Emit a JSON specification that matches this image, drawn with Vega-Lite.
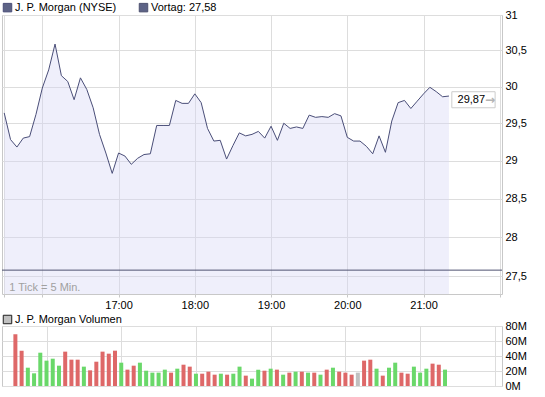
{
  "$schema": "https://vega.github.io/schema/vega-lite/v6.json",
  "padding": {"left": 1, "top": 1, "right": 0, "bottom": 0},
  "background": "white",
  "spacing": 2,
  "resolve": {"scale": {"color": "independent", "stroke": "independent", "fill": "independent"}, "legend": {"color": "independent", "stroke": "independent", "fill": "independent"}},
  "config": {
    "font": "Liberation Sans",
    "view": {"stroke": "#c8c8c8", "strokeWidth": 1},
    "axis": {"labelFont": "Liberation Sans", "labelFontSize": 11, "labelColor": "#000000", "gridColor": "#dddddd", "gridWidth": 1, "domain": false, "title": null, "tickColor": "#c8c8c8"},
    "legend": {"labelFont": "Liberation Sans", "labelFontSize": 11, "labelColor": "#000000", "padding": 0, "offset": 1, "symbolSize": 72, "labelOffset": 2, "columnPadding": 20, "title": null, "orient": "top", "direction": "horizontal"}
  },
  "vconcat": [
    {
      "width": 500,
      "height": 279,
      "data": {
        "values": [
          {"t": "15:30", "p": 29.64}, {"t": "15:35", "p": 29.28}, {"t": "15:40", "p": 29.18}, {"t": "15:45", "p": 29.30}, {"t": "15:50", "p": 29.32},
          {"t": "15:55", "p": 29.62}, {"t": "16:00", "p": 29.98}, {"t": "16:05", "p": 30.23}, {"t": "16:10", "p": 30.59}, {"t": "16:15", "p": 30.15},
          {"t": "16:20", "p": 30.07}, {"t": "16:25", "p": 29.82}, {"t": "16:30", "p": 30.12}, {"t": "16:35", "p": 29.96}, {"t": "16:40", "p": 29.71},
          {"t": "16:45", "p": 29.35}, {"t": "16:50", "p": 29.10}, {"t": "16:55", "p": 28.83}, {"t": "17:00", "p": 29.10}, {"t": "17:05", "p": 29.06},
          {"t": "17:10", "p": 28.95}, {"t": "17:15", "p": 29.03}, {"t": "17:20", "p": 29.08}, {"t": "17:25", "p": 29.09}, {"t": "17:30", "p": 29.47},
          {"t": "17:35", "p": 29.47}, {"t": "17:40", "p": 29.47}, {"t": "17:45", "p": 29.81}, {"t": "17:50", "p": 29.77}, {"t": "17:55", "p": 29.77},
          {"t": "18:00", "p": 29.90}, {"t": "18:05", "p": 29.78}, {"t": "18:10", "p": 29.43}, {"t": "18:15", "p": 29.26}, {"t": "18:20", "p": 29.27},
          {"t": "18:25", "p": 29.02}, {"t": "18:30", "p": 29.20}, {"t": "18:35", "p": 29.37}, {"t": "18:40", "p": 29.33}, {"t": "18:45", "p": 29.35},
          {"t": "18:50", "p": 29.39}, {"t": "18:55", "p": 29.30}, {"t": "19:00", "p": 29.46}, {"t": "19:05", "p": 29.27}, {"t": "19:10", "p": 29.50},
          {"t": "19:15", "p": 29.43}, {"t": "19:20", "p": 29.45}, {"t": "19:25", "p": 29.43}, {"t": "19:30", "p": 29.61}, {"t": "19:35", "p": 29.58},
          {"t": "19:40", "p": 29.59}, {"t": "19:45", "p": 29.58}, {"t": "19:50", "p": 29.63}, {"t": "19:55", "p": 29.60}, {"t": "20:00", "p": 29.31},
          {"t": "20:05", "p": 29.26}, {"t": "20:10", "p": 29.26}, {"t": "20:15", "p": 29.19}, {"t": "20:20", "p": 29.09}, {"t": "20:25", "p": 29.33},
          {"t": "20:30", "p": 29.11}, {"t": "20:35", "p": 29.53}, {"t": "20:40", "p": 29.78}, {"t": "20:45", "p": 29.81}, {"t": "20:50", "p": 29.70},
          {"t": "20:55", "p": 29.80}, {"t": "21:00", "p": 29.90}, {"t": "21:05", "p": 29.99}, {"t": "21:10", "p": 29.93}, {"t": "21:15", "p": 29.86},
          {"t": "21:20", "p": 29.87}
        ],
        "format": {"parse": {"t": "date:'%H:%M'"}}
      },
      "layer": [
        {
          "mark": {"type": "area", "fill": "#d8d8f5", "fillOpacity": 0.4},
          "encoding": {
            "x": {"field": "t", "type": "temporal",
              "scale": {"nice": false, "domain": [{"year": 1900, "month": 1, "date": 1, "hours": 15, "minutes": 28, "seconds": 16}, {"year": 1900, "month": 1, "date": 1, "hours": 22, "minutes": 1, "seconds": 44}]},
              "axis": {"grid": true, "ticks": true, "tickSize": 3, "labelPadding": 2,
                "values": [{"year": 1900, "month": 1, "date": 1, "hours": 15, "minutes": 30}, {"year": 1900, "month": 1, "date": 1, "hours": 16}, {"year": 1900, "month": 1, "date": 1, "hours": 17}, {"year": 1900, "month": 1, "date": 1, "hours": 18}, {"year": 1900, "month": 1, "date": 1, "hours": 19}, {"year": 1900, "month": 1, "date": 1, "hours": 20}, {"year": 1900, "month": 1, "date": 1, "hours": 21}, {"year": 1900, "month": 1, "date": 1, "hours": 22}],
                "labelExpr": "(hours(datum.value) >= 17 && hours(datum.value) <= 21 && minutes(datum.value) == 0) ? timeFormat(datum.value, '%H:%M') : ''"}},
            "y": {"field": "p", "type": "quantitative",
              "scale": {"type": "log", "nice": false, "domain": [27.28, 31]},
              "axis": {"orient": "right", "grid": true, "ticks": false, "labelPadding": 3, "values": [27.5, 28, 28.5, 29, 29.5, 30, 30.5, 31],
                "labelExpr": "replace(format(datum.value, '.1~f'), '.', ',')", "labelBaseline": "middle"}},
            "y2": {"datum": 27.28}
          }
        },
        {
          "mark": {"type": "line", "strokeWidth": 1},
          "encoding": {
            "x": {"field": "t", "type": "temporal"},
            "y": {"field": "p", "type": "quantitative"},
            "color": {"datum": "J. P. Morgan (NYSE)",
              "scale": {"domain": ["J. P. Morgan (NYSE)", "Vortag: 27,58"], "range": ["#4a4e78", "#4e5270"]},
              "legend": {"orient": "top", "direction": "horizontal", "symbolType": "square",
                "encode": {"symbols": {"update": {"fill": {"value": "#5d6386"}, "stroke": {"value": "#1e1e28"}, "strokeWidth": {"value": 1}, "opacity": {"value": 1}, "shape": {"value": "square"}}}}}}
          }
        },
        {
          "data": {"values": [{"v": 27.58}]},
          "mark": {"type": "rule", "strokeWidth": 1},
          "encoding": {
            "y": {"field": "v", "type": "quantitative"},
            "color": {"datum": "Vortag: 27,58"}
          }
        },
        {
          "data": {"values": [{"t": "15:30", "p": 27.28, "txt": "1 Tick = 5 Min."}], "format": {"parse": {"t": "date:'%H:%M'"}}},
          "mark": {"type": "text", "align": "left", "baseline": "alphabetic", "dx": 5, "dy": -3, "fontSize": 11, "fill": "#a0a0a0"},
          "encoding": {
            "x": {"field": "t", "type": "temporal"},
            "y": {"field": "p", "type": "quantitative"},
            "text": {"field": "txt"}
          }
        },
        {
          "data": {"values": [{"t": "21:20", "p": 29.87, "lbl": "29,87", "arr": "→"}], "format": {"parse": {"t": "date:'%H:%M'"}}},
          "layer": [
            {
              "mark": {"type": "point", "shape": "M-1,-0.37L1,-0.37L1,0.37L-1,0.37Z", "size": 1875, "filled": true, "fill": "#ffffff", "stroke": "#cccccc", "strokeWidth": 1, "opacity": 1, "xOffset": 24.5, "yOffset": 3.7},
              "encoding": {"x": {"field": "t", "type": "temporal"}, "y": {"field": "p", "type": "quantitative"}}
            },
            {
              "mark": {"type": "text", "align": "left", "baseline": "middle", "dx": 8.6, "dy": 3.7, "fontSize": 11, "fill": "#000000"},
              "encoding": {"x": {"field": "t", "type": "temporal"}, "y": {"field": "p", "type": "quantitative"}, "text": {"field": "lbl"}}
            },
            {
              "mark": {"type": "text", "align": "center", "baseline": "middle", "dx": 41, "dy": 3.7, "fontSize": 12, "fontWeight": "bold", "fill": "#b4b4b4", "font": "DejaVu Sans"},
              "encoding": {"x": {"field": "t", "type": "temporal"}, "y": {"field": "p", "type": "quantitative"}, "text": {"field": "arr"}}
            }
          ]
        }
      ]
    },
    {
      "width": 500,
      "height": 60,
      "data": {
        "values": [
          {"t": "15:35", "v": 69, "d": "down"}, {"t": "15:40", "v": 47, "d": "down"}, {"t": "15:45", "v": 24.4, "d": "up"}, {"t": "15:50", "v": 16.9, "d": "up"},
          {"t": "15:55", "v": 44.4, "d": "up"}, {"t": "16:00", "v": 33.8, "d": "up"}, {"t": "16:05", "v": 36.4, "d": "up"}, {"t": "16:10", "v": 27.1, "d": "up"},
          {"t": "16:15", "v": 45.8, "d": "down"}, {"t": "16:20", "v": 35.1, "d": "down"}, {"t": "16:25", "v": 35.1, "d": "down"}, {"t": "16:30", "v": 25.8, "d": "up"},
          {"t": "16:35", "v": 20.9, "d": "down"}, {"t": "16:40", "v": 32.4, "d": "down"}, {"t": "16:45", "v": 45.8, "d": "down"}, {"t": "16:50", "v": 43.1, "d": "down"},
          {"t": "16:55", "v": 47.1, "d": "down"}, {"t": "17:00", "v": 31.1, "d": "up"}, {"t": "17:05", "v": 21.8, "d": "down"}, {"t": "17:10", "v": 27.1, "d": "down"},
          {"t": "17:15", "v": 31.1, "d": "up"}, {"t": "17:20", "v": 20.4, "d": "up"}, {"t": "17:25", "v": 17.8, "d": "up"}, {"t": "17:30", "v": 17.8, "d": "up"},
          {"t": "17:35", "v": 21.8, "d": "up"}, {"t": "17:40", "v": 17.8, "d": "down"}, {"t": "17:45", "v": 23.1, "d": "up"}, {"t": "17:50", "v": 28.4, "d": "down"},
          {"t": "17:55", "v": 25.8, "d": "down"}, {"t": "18:00", "v": 16.4, "d": "up"}, {"t": "18:05", "v": 16.4, "d": "down"}, {"t": "18:10", "v": 19.1, "d": "down"},
          {"t": "18:15", "v": 15.1, "d": "down"}, {"t": "18:20", "v": 16.4, "d": "up"}, {"t": "18:25", "v": 15.1, "d": "down"}, {"t": "18:30", "v": 16.4, "d": "up"},
          {"t": "18:35", "v": 25.8, "d": "up"}, {"t": "18:40", "v": 13.8, "d": "down"}, {"t": "18:45", "v": 9.8, "d": "up"}, {"t": "18:50", "v": 21.8, "d": "up"},
          {"t": "18:55", "v": 20.4, "d": "down"}, {"t": "19:00", "v": 23.1, "d": "up"}, {"t": "19:05", "v": 21.8, "d": "down"}, {"t": "19:10", "v": 15.1, "d": "up"},
          {"t": "19:15", "v": 17.8, "d": "down"}, {"t": "19:20", "v": 19.1, "d": "up"}, {"t": "19:25", "v": 19.1, "d": "down"}, {"t": "19:30", "v": 17.8, "d": "up"},
          {"t": "19:35", "v": 17.8, "d": "down"}, {"t": "19:40", "v": 15.1, "d": "up"}, {"t": "19:45", "v": 21.8, "d": "down"}, {"t": "19:50", "v": 24.4, "d": "up"},
          {"t": "19:55", "v": 19.1, "d": "down"}, {"t": "20:00", "v": 17.8, "d": "down"}, {"t": "20:05", "v": 15.1, "d": "down"}, {"t": "20:10", "v": 17.8, "d": "flat"},
          {"t": "20:15", "v": 33.8, "d": "down"}, {"t": "20:20", "v": 35.1, "d": "down"}, {"t": "20:25", "v": 23.1, "d": "up"}, {"t": "20:30", "v": 13.8, "d": "down"},
          {"t": "20:35", "v": 24.4, "d": "up"}, {"t": "20:40", "v": 31.1, "d": "up"}, {"t": "20:45", "v": 17.8, "d": "down"}, {"t": "20:50", "v": 16.4, "d": "down"},
          {"t": "20:55", "v": 25.8, "d": "up"}, {"t": "21:00", "v": 17.8, "d": "up"}, {"t": "21:05", "v": 23.1, "d": "up"}, {"t": "21:10", "v": 29.8, "d": "down"},
          {"t": "21:15", "v": 28.4, "d": "down"}, {"t": "21:20", "v": 21.8, "d": "up"}
        ],
        "format": {"parse": {"t": "date:'%H:%M'"}}
      },
      "mark": {"type": "bar", "width": 4, "strokeWidth": 0},
      "encoding": {
        "x": {"field": "t", "type": "temporal",
          "scale": {"nice": false, "domain": [{"year": 1900, "month": 1, "date": 1, "hours": 15, "minutes": 28, "seconds": 16}, {"year": 1900, "month": 1, "date": 1, "hours": 22, "minutes": 1, "seconds": 44}]},
          "axis": {"grid": true, "ticks": false, "labels": false,
            "values": [{"year": 1900, "month": 1, "date": 1, "hours": 16}, {"year": 1900, "month": 1, "date": 1, "hours": 17}, {"year": 1900, "month": 1, "date": 1, "hours": 18}, {"year": 1900, "month": 1, "date": 1, "hours": 19}, {"year": 1900, "month": 1, "date": 1, "hours": 20}, {"year": 1900, "month": 1, "date": 1, "hours": 21}, {"year": 1900, "month": 1, "date": 1, "hours": 22}]}},
        "y": {"field": "v", "type": "quantitative",
          "scale": {"domain": [0, 80]},
          "axis": {"orient": "right", "grid": true, "ticks": false, "labelPadding": 3, "values": [0, 20, 40, 60, 80], "labelExpr": "datum.value + 'M'", "labelBaseline": "middle"}},
        "fill": {"field": "d", "type": "nominal",
          "scale": {"domain": ["down", "up", "flat"], "range": ["#de6868", "#6ad86a", "#c0c0c0"]}, "legend": null},
        "stroke": {"datum": "J. P. Morgan Volumen",
          "scale": {"range": ["#1e1e1e"]},
          "legend": {"orient": "top", "direction": "horizontal", "symbolType": "square", "offset": 0,
            "symbolFillColor": "#c0c0c0", "symbolStrokeColor": "#1e1e1e", "symbolStrokeWidth": 1, "symbolOpacity": 1,
            "encode": {"symbols": {"update": {"fill": {"value": "#c0c0c0"}, "fillOpacity": {"value": 1}, "stroke": {"value": "#1e1e1e"}, "strokeWidth": {"value": 1}, "opacity": {"value": 1}, "shape": {"value": "square"}}}}}}
      }
    }
  ]
}
